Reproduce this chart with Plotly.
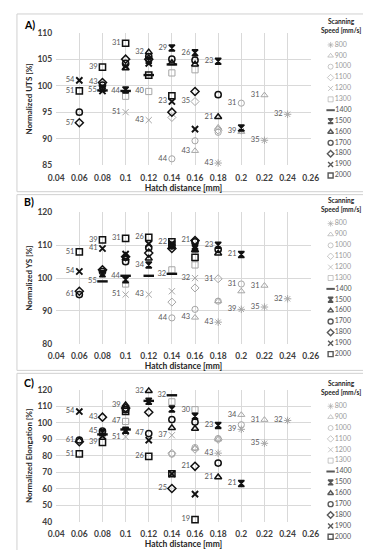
import plotly.graph_objects as go

FONT = "Lato"

SPEEDS = [800, 900, 1000, 1100, 1200, 1300, 1400, 1500, 1600, 1700, 1800, 1900, 2000]
X_TICKS = [0.04, 0.06, 0.08, 0.10, 0.12, 0.14, 0.16, 0.18, 0.20, 0.22, 0.24, 0.26]
X_TICKTEXT = ["0.04", "0.06", "0.08", "0.1", "0.12", "0.14", "0.16", "0.18", "0.2", "0.22", "0.24", "0.26"]

# hatch distances tested per scanning speed [mm]
HATCH = {
    800: [0.18, 0.20, 0.22, 0.24],
    900: [0.16, 0.18, 0.20, 0.22],
    1000: [0.14, 0.16, 0.18, 0.20],
    1100: [0.14, 0.16, 0.18],
    1200: [0.10, 0.12, 0.14, 0.16],
    1300: [0.10, 0.12, 0.14, 0.16],
    1400: [0.08, 0.10, 0.12, 0.14],
    1500: [0.08, 0.10, 0.12, 0.14, 0.16, 0.18, 0.20],
    1600: [0.10, 0.12, 0.14, 0.16, 0.18],
    1700: [0.06, 0.08, 0.10, 0.12, 0.14, 0.16, 0.18],
    1800: [0.06, 0.08, 0.10, 0.12, 0.14, 0.16],
    1900: [0.06, 0.08, 0.10, 0.12, 0.14, 0.16],
    2000: [0.06, 0.08, 0.10, 0.12, 0.14, 0.16],
}

# Normalized UTS [%]
UTS = {
    800: [85.4, 91.5, 89.7, 94.6],
    900: [87.7, 92.1, 91.3, 98.2],
    1000: [86.2, 89.6, 91.2, 96.7],
    1100: [94.0, 97.0, 91.6],
    1200: [95.0, 93.5, None, None],
    1300: [98.0, 98.9, 102.4, 103.0],
    1400: [99.1, 99.0, 102.0, 104.0],
    1500: [99.5, 99.2, 104.8, 107.1, 106.2, 104.6, 92.0],
    1600: [103.3, 106.3, 104.3, 104.0, 94.1],
    1700: [95.0, 100.1, 104.2, 105.5, 105.0, 104.8, 98.3],
    1800: [93.0, 100.6, 105.0, 105.0, 95.0, 98.9],
    1900: [101.0, 99.0, 103.6, 104.2, 97.0, 91.8],
    2000: [99.0, 103.5, 108.0, 102.0, 98.1, None],
}

# Normalized YS [%]
YS = {
    800: [86.6, 90.5, 91.2, 93.7],
    900: [88.0, 93.0, 96.0, 97.7],
    1000: [87.9, 90.5, 93.0, 98.2],
    1100: [92.7, 97.0, 99.8],
    1200: [95.0, 95.0, 96.0, 100.0],
    1300: [98.2, None, 102.5, 104.0],
    1400: [99.0, 100.7, 100.7, 101.3],
    1500: [101.3, 99.5, 104.0, 110.0, 109.0, 110.0, 107.2],
    1600: [106.0, 106.0, 109.5, 108.5, 107.5],
    1700: [95.0, 102.0, 105.0, 109.2, 109.8, 111.0, 108.7],
    1800: [96.0, 102.5, 106.5, 107.6, 109.0, 111.4],
    1900: [102.0, 109.0, 107.3, 110.4, 110.5, 109.6],
    2000: [108.0, 111.6, 112.1, 112.4, 111.0, 106.3],
}

# Normalized Elongation [%]
EL = {
    800: [81.6, 96.1, 87.6, 101.5],
    900: [84.5, 90.0, 104.9, 101.9],
    1000: [81.0, 85.0, 90.5, 98.9],
    1100: [81.5, 84.0, 90.0],
    1200: [91.5, None, 92.5, None],
    1300: [100.9, None, 112.8, 108.0],
    1400: [93.0, 96.0, 113.4, 116.8],
    1500: [94.0, 95.5, 113.2, 108.5, 104.0, 98.5, 63.1],
    1600: [110.9, 119.4, 97.0, 96.5, 67.0],
    1700: [89.6, 95.0, 108.0, 93.5, 102.0, 100.5, 75.6],
    1800: [88.6, 103.5, 109.0, 106.5, 60.1, 73.6],
    1900: [106.9, 92.0, 95.0, 89.5, 69.0, 56.7],
    2000: [81.2, 88.2, 107.0, 79.6, 69.1, 41.2],
}

# energy-density labels shown next to points (None = no label)
LAB_UTS = {
    800: [43, 39, 35, 32], 900: [43, None, None, 31], 1000: [44, None, None, 31],
    1100: [None, 35, None], 1200: [51, 43, None, None], 1300: [None, 40, None, None],
    1400: [55, 44, None, None], 1500: [None, None, None, 29, 26, 23, None],
    1600: [None, 32, None, None, 21], 1700: [None] * 7,
    1800: [57, 43, None, None, None, None], 1900: [54, None, None, None, 23, None],
    2000: [51, 39, 31, None, None, None],
}
LAB_YS = {
    800: [43, 39, 35, 32], 900: [43, None, None, 31], 1000: [44, None, None, 31],
    1100: [None, None, 31], 1200: [51, 43, None, 32], 1300: [None] * 4,
    1400: [55, 44, None, 32], 1500: [None, None, 34, None, None, 23, 21],
    1600: [None] * 5, 1700: [61, None, None, None, None, None, None],
    1800: [None, None, None, None, None, 21], 1900: [54, 41, None, None, None, None],
    2000: [51, 39, 31, 26, 22, None],
}
LAB_EL = {
    800: [43, 39, 35, 32], 900: [None, None, 34, 31], 1000: [None] * 4,
    1100: [None] * 3, 1200: [51, None, 37, None], 1300: [47, None, None, 30],
    1400: [None, None, None, 32], 1500: [None, None, None, None, None, 23, 21],
    1600: [39, 32, None, None, 21], 1700: [61, 45, None, 47, None, None, None],
    1800: [None, 43, None, None, 25, 21], 1900: [54, None, None, None, None, None],
    2000: [51, 39, None, 26, None, 19],
}

GRAY = "#a6a6a6"
BLACK = "#111111"
SYMBOL = {800: "asterisk-open", 900: "triangle-up-open", 1000: "circle-open", 1100: "diamond-open",
          1200: "x-thin-open", 1300: "square-open", 1400: "line-ew-open", 1500: "hourglass",
          1600: "triangle-up-open", 1700: "circle-open", 1800: "diamond-open", 1900: "x-thin-open",
          2000: "square-open"}
COLOR = {s: (GRAY if s < 1400 else BLACK) for s in SPEEDS}
SIZE = {s: 6.2 for s in SPEEDS}
SIZE[1400] = 7.5
SIZE[1500] = 6
LW = {s: (1.0 if s < 1400 else 1.5) for s in SPEEDS}
LW[1400] = 2.4
LW[1900] = 1.9

XDOM = [42 / 371, 308 / 371]


def pyd(p):
    return 1 - p / 550


fig = go.Figure()

panels = [
    ("x", "y", UTS, LAB_UTS),
    ("x2", "y2", YS, LAB_YS),
    ("x3", "y3", EL, LAB_EL),
]
for xa, ya, vals, labs in panels:
    for s in SPEEDS:
        fig.add_trace(go.Scatter(
            x=HATCH[s], y=vals[s], xaxis=xa, yaxis=ya,
            mode="markers+text",
            text=["" if l is None else str(l) for l in labs[s]],
            textposition="middle left",
            textfont=dict(size=7.5, color="#595959", family=FONT),
            marker=dict(symbol=SYMBOL[s], size=SIZE[s], color=COLOR[s],
                        line=dict(color=COLOR[s], width=LW[s])),
            showlegend=False, cliponaxis=False, hoverinfo="skip",
        ))

# pseudo-legends (one per panel)
leg_axes = [("x4", "y4"), ("x5", "y5"), ("x6", "y6")]
for xa, ya in leg_axes:
    fig.add_trace(go.Scatter(
        x=[0] * len(SPEEDS), y=list(range(len(SPEEDS))),
        xaxis=xa, yaxis=ya, mode="markers+text",
        text=[str(s) for s in SPEEDS], textposition="middle right",
        textfont=dict(size=7, family=FONT, color=["#9a9a9a" if s < 1400 else "#555555" for s in SPEEDS]),
        marker=dict(symbol=[SYMBOL[s] for s in SPEEDS],
                    size=[5 if s != 1400 else 6 for s in SPEEDS],
                    color=[COLOR[s] for s in SPEEDS],
                    line=dict(color=[COLOR[s] for s in SPEEDS],
                              width=[0.9 if s < 1400 else (2 if s == 1400 else 1.4) for s in SPEEDS])),
        showlegend=False, cliponaxis=False, hoverinfo="skip",
    ))

tickfont = dict(size=8.5, color="#404040", family=FONT, weight="bold")
titlefont = dict(size=8.5, color="#262626", family=FONT, weight="bold")
GRID = "#d9d9d9"

xbase = dict(range=[0.04, 0.26], tickvals=X_TICKS, ticktext=X_TICKTEXT, showgrid=True,
             gridcolor=GRID, gridwidth=1, zeroline=False, showline=False, ticks="",
             ticklabelstandoff=6,
             tickfont=tickfont, domain=XDOM, fixedrange=True)
ybase = dict(showgrid=True, gridcolor=GRID, gridwidth=1, zeroline=False, showline=False,
             ticks="", ticklabelstandoff=3, tickfont=tickfont, fixedrange=True)

panel_px = [(20, 155), (203, 337), (384, 518)]
yinfo = [([85, 110], 5, "Normalized UTS [%]"),
         ([80, 120], 10, "Normalized YS [%]"),
         ([40, 120], 10, "Normalized Elongation [%]")]

layout = dict(width=371, height=550, margin=dict(l=0, r=0, t=0, b=0),
              paper_bgcolor="white", plot_bgcolor="white", showlegend=False,
              font=dict(family=FONT))
for i in range(3):
    suf = "" if i == 0 else str(i + 1)
    top, bot = panel_px[i]
    layout["xaxis" + suf] = dict(xbase, anchor="y" + suf,
                                 title=dict(text="Hatch distance [mm]", font=titlefont, standoff=2))
    rng, dt, ttl = yinfo[i]
    layout["yaxis" + suf] = dict(ybase, range=rng, dtick=dt, anchor="x" + suf,
                                 domain=[pyd(bot), pyd(top)],
                                 title=dict(text=ttl, font=dict(titlefont, size=8), standoff=3))

leg_rows = [(27, 171), (209, 353), (395, 539)]
for j in range(3):
    n = j + 4
    t, b = leg_rows[j]
    layout["xaxis%d" % n] = dict(domain=[0.872, 1.0], range=[-0.5, 4], visible=False,
                                 anchor="y%d" % n, fixedrange=True)
    layout["yaxis%d" % n] = dict(domain=[pyd(b), pyd(t)], range=[len(SPEEDS) - 0.5, -0.5],
                                 visible=False, anchor="x%d" % n, fixedrange=True)

fig.update_layout(**layout)

# panel frames
frames = [(1, 182), (185, 364), (367, 549)]
for t, b in frames:
    fig.add_shape(type="rect", xref="paper", yref="paper", x0=1 / 371, x1=369 / 371,
                  y0=pyd(b), y1=pyd(t), line=dict(color="#d0d0d0", width=1), fillcolor="rgba(0,0,0,0)")

# panel letters and legend titles
letters = [("A)", 12), ("B)", 193), ("C)", 377)]
for txt, py in letters:
    fig.add_annotation(text="<b>%s</b>" % txt, xref="paper", yref="paper", x=6 / 371, y=pyd(py),
                       xanchor="left", yanchor="middle", showarrow=False,
                       font=dict(size=10.5, color="#000", family=FONT))
for off in [0, 182, 368]:
    fig.add_annotation(text="<b>Scanning</b><br><b>Speed [mm/s]</b>", xref="paper", yref="paper",
                       x=340 / 371, y=pyd(13 + off), xanchor="center", yanchor="middle",
                       showarrow=False, align="center",
                       font=dict(size=6.6, color="#262626", family=FONT))

fig.write_html("out.html")
